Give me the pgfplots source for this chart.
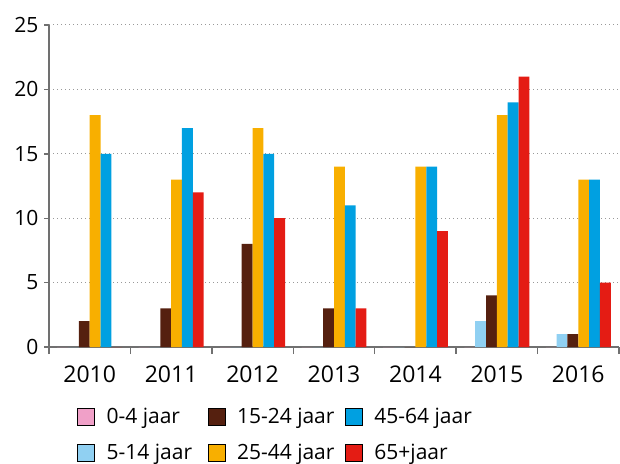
\documentclass[border=0pt]{standalone}
\usepackage{pgfplots}
\pgfplotsset{compat=1.18}
\usepackage{fontspec}
\setmainfont{Open Sans}
\definecolor{c04}{HTML}{F0A0C8}
\definecolor{c514}{HTML}{90D0F2}
\definecolor{c1524}{HTML}{55200F}
\definecolor{c2544}{HTML}{F8AF00}
\definecolor{c4564}{HTML}{00A0E1}
\definecolor{c65}{HTML}{E41C14}
\definecolor{axgray}{HTML}{707070}

\begin{document}
\begin{tikzpicture}
\begin{axis}[
    scale only axis,
    width=570pt, height=322pt,
    xmin=-0.5, xmax=6.5,
    ymin=0, ymax=25,
    axis x line*=bottom,
    axis y line*=left,
    axis line style={axgray, line width=1.4pt},
    xtick={0,...,6},
    xticklabels={2010,2011,2012,2013,2014,2015,2016},
    minor xtick={-0.5,0.5,...,6.5},
    major x tick style={draw=none},
    minor x tick style={axgray, line width=1.4pt},
    minor tick length=7pt,
    ytick={0,5,...,25},
    major y tick style={axgray, line width=1.4pt},
    major tick length=5pt,
    tick align=outside,
    ymajorgrids,
    major grid style={gray!80, line width=1pt, dash pattern=on 1.2pt off 2.8pt},
    /pgf/number format/assume math mode=true,
    xticklabel style={font=\fontsize{23}{27}\selectfont, yshift=-10pt},
    yticklabel style={font=\fontsize{21}{25}\selectfont, xshift=-2pt},
    legsq/.style={legend image code/.code={\fill[##1] (0pt,-8.5pt) rectangle (17pt,8.5pt);}},
    legend columns=3,
    legend style={
        draw=none, fill=none,
        at={(28pt,-61pt)}, anchor=north west,
        font=\fontsize{21}{25}\selectfont,
        inner sep=0pt,
        nodes={inner sep=0pt},
        row sep=18pt,
        /tikz/every odd column/.append style={column sep=12pt},
        legend cell align=left,
    },
]
\addplot[ybar, bar width=0.133, bar shift=-0.3325, fill=c04, draw=none, forget plot]
    coordinates {(0,0) (1,0) (2,0) (3,0) (4,0) (5,0) (6,0)};
\addplot[ybar, bar width=0.133, bar shift=-0.1995, fill=c514, draw=none, forget plot]
    coordinates {(0,0) (1,0) (2,0) (3,0) (4,0) (5,2) (6,1)};
\addplot[ybar, bar width=0.133, bar shift=-0.0665, fill=c1524, draw=none, forget plot]
    coordinates {(0,2) (1,3) (2,8) (3,3) (4,0) (5,4) (6,1)};
\addplot[ybar, bar width=0.133, bar shift=0.0665, fill=c2544, draw=none, forget plot]
    coordinates {(0,18) (1,13) (2,17) (3,14) (4,14) (5,18) (6,13)};
\addplot[ybar, bar width=0.133, bar shift=0.1995, fill=c4564, draw=none, forget plot]
    coordinates {(0,15) (1,17) (2,15) (3,11) (4,14) (5,19) (6,13)};
\addplot[ybar, bar width=0.133, bar shift=0.3325, fill=c65, draw=none, forget plot]
    coordinates {(0,0) (1,12) (2,10) (3,3) (4,9) (5,21) (6,5)};

\addlegendimage{legsq, fill=c04}
\addlegendentry{\makebox[101pt][l]{0-4 jaar}}
\addlegendimage{legsq, fill=c1524}
\addlegendentry{\makebox[108pt][l]{15-24 jaar}}
\addlegendimage{legsq, fill=c4564}
\addlegendentry{45-64 jaar}
\addlegendimage{legsq, fill=c514}
\addlegendentry{5-14 jaar}
\addlegendimage{legsq, fill=c2544}
\addlegendentry{25-44 jaar}
\addlegendimage{legsq, fill=c65}
\addlegendentry{65+jaar}
\end{axis}
\pgfresetboundingbox
\path ([xshift=-49pt,yshift=-116pt]current axis.south west) rectangle ([xshift=571pt,yshift=347pt]current axis.south west);
\end{tikzpicture}
\end{document}
